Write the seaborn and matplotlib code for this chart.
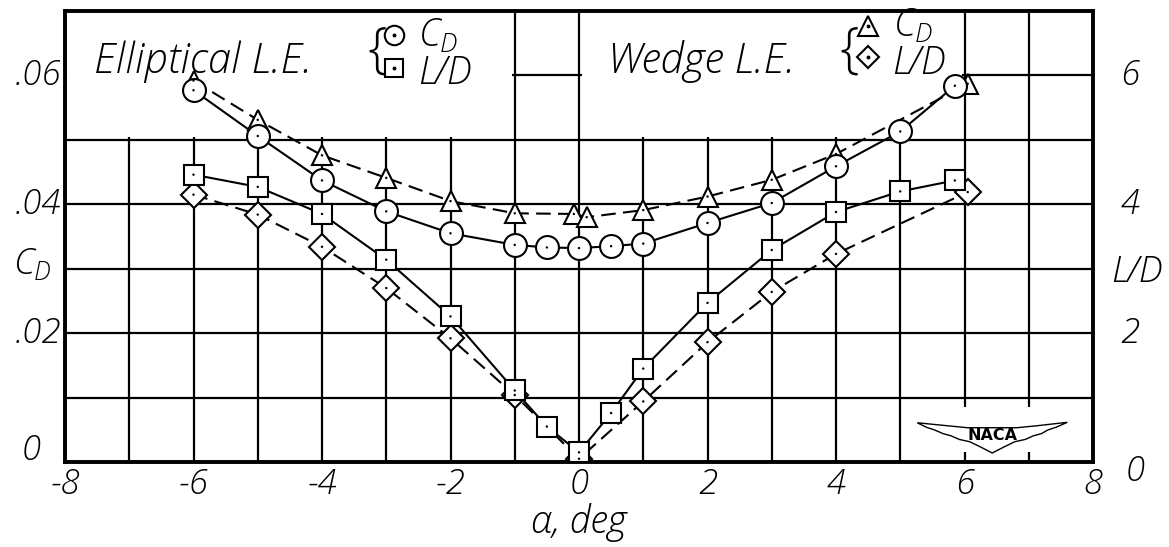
import numpy as np
import pandas as pd
import matplotlib
matplotlib.use("Agg")
import matplotlib.pyplot as plt
import seaborn as sns
from matplotlib.patches import Rectangle, Polygon

# ---------------- data ----------------
alpha_ell_cd = [-6, -5, -4, -3, -2, -1, -0.5, 0, 0.5, 1, 2, 3, 4, 5, 5.85]
cd_ell = [0.0577, 0.0506, 0.0437, 0.0389, 0.0355, 0.0337, 0.0333, 0.0332,
          0.0335, 0.0339, 0.0371, 0.0402, 0.0459, 0.0513, 0.0584]

alpha_wedge_cd = [-6, -5, -4, -3, -2, -1, -0.08, 0.12, 1, 2, 3, 4, 6.05]
cd_wedge = [0.0592, 0.0531, 0.0476, 0.0441, 0.0405, 0.0386, 0.0385, 0.0380,
            0.0391, 0.0412, 0.0438, 0.0478, 0.0587]

alpha_ell_ld = [-6, -5, -4, -3, -2, -1, -0.5, 0, 0.5, 1, 2, 3, 4, 5, 5.85]
ld_ell = [4.46, 4.27, 3.85, 3.14, 2.26, 1.11, 0.55, 0.15, 0.76, 1.45, 2.47,
          3.29, 3.88, 4.20, 4.37]

alpha_wedge_ld = [-6, -5, -4, -3, -2, -1, 0, 1, 2, 3, 4, 6.05]
ld_wedge = [4.15, 3.84, 3.34, 2.70, 1.92, 1.04, 0.05, 0.94, 1.86, 2.64, 3.23, 4.19]

x_tick_values = [-8, -6, -4, -2, 0, 2, 4, 6, 8]
x_tick_labels = ["-8", "-6", "-4", "-2", "0", "2", "4", "6", "8"]
cd_tick_values = [0.02, 0.04, 0.06]
cd_tick_labels = [".02", ".04", ".06"]
ld_tick_values = [2, 4, 6]
ld_tick_labels = ["2", "4", "6"]

# ---------------- style ----------------
sns.set_theme(style="white")
FAM = ["Open Sans", "DejaVu Sans"]
plt.rcParams["font.family"] = FAM
plt.rcParams["mathtext.fontset"] = "custom"
plt.rcParams["mathtext.rm"] = "Open Sans:light"
plt.rcParams["mathtext.it"] = "Open Sans:italic:light"
plt.rcParams["text.color"] = "black"
FONT = dict(family=FAM, style="italic", weight="light", color="black")
TS = 25   # tick label size
LS = 30   # legend label size
LW = 1.5

fig = plt.figure(figsize=(11.69, 5.47), dpi=100)
ax = fig.add_axes([65 / 1169, 85 / 547, 1028 / 1169, 451 / 547])
ax2 = ax.twinx()

ax.set_xlim(-8, 8)
ax.set_ylim(0, 0.07)
ax2.set_ylim(0, 7)

ax.set_xticks(np.arange(-8, 9, 1))
ax.set_yticks(np.arange(0, 0.0701, 0.01))
ax.set_xticklabels([])
ax.set_yticklabels([])
ax2.set_yticks([])
ax.tick_params(length=0)
ax2.tick_params(length=0)
ax.set_axisbelow(True)
ax.grid(True, color="black", linewidth=1.6)
for s in ax.spines.values():
    s.set_color("black")
    s.set_linewidth(2.8)
for s in ax2.spines.values():
    s.set_visible(False)

# white legend boxes and logo patch covering the grid
for (x0, x1, y0, y1) in [(-7.97, -1.04, 0.0504, 0.0697),
                         (0.04, 5.96, 0.0504, 0.0697),
                         (5.04, 7.97, 0.0015, 0.0085)]:
    ax.add_patch(Rectangle((x0, y0), x1 - x0, y1 - y0, facecolor="white",
                           edgecolor="none", zorder=1))

MK = dict(markerfacecolor="white", markeredgecolor="black",
          markeredgewidth=1.5, color="black", linewidth=LW)


def series(axis, x, y, marker, msize, dashed):
    df = pd.DataFrame({"alpha": x, "val": y})
    sns.lineplot(data=df, x="alpha", y="val", ax=axis, sort=False,
                 estimator=None, marker=marker, markersize=msize, **MK)
    line = axis.lines[-1]
    if dashed:
        line.set_dashes((7, 3.5))
    sns.scatterplot(data=df, x="alpha", y="val", ax=axis, s=3,
                    color="black", edgecolor="none", zorder=5)


series(ax, alpha_wedge_cd, cd_wedge, "^", 14.5, True)
series(ax, alpha_ell_cd, cd_ell, "o", 16.5, False)
series(ax2, alpha_wedge_ld, ld_wedge, "D", 13.5, True)
series(ax2, alpha_ell_ld, ld_ell, "s", 14.0, False)

ax.set_xlabel("")
ax.set_ylabel("")
ax2.set_ylabel("")
ax.set_xlim(-8, 8)
ax.set_ylim(0, 0.07)
ax2.set_ylim(0, 7)

# ---------------- tick labels (hand-lettered look) ----------------
xt = ax.get_xaxis_transform()
for v, lab in zip(x_tick_values, x_tick_labels):
    ax.text(v, -0.05, lab, transform=xt, ha="center", va="center",
            fontsize=TS, **FONT)
yt = ax.get_yaxis_transform()
for v, lab in zip(cd_tick_values, cd_tick_labels):
    ax.text(-0.004, v, lab, transform=yt, ha="right", va="center",
            fontsize=TS, **FONT)
ax.text(-0.033, 0.0018, "0", transform=yt, ha="center", va="center",
        fontsize=TS, **FONT)
ax.text(-0.032, 0.0305, r"$C_D$", transform=yt, ha="center", va="center",
        fontsize=TS + 1, color="black")

yt2 = ax2.get_yaxis_transform()
for v, lab in zip(ld_tick_values, ld_tick_labels):
    ax2.text(1.036, v, lab, transform=yt2, ha="center", va="center",
             fontsize=TS, **FONT)
ax2.text(1.041, -0.15, "0", transform=yt2, ha="center", va="center",
         fontsize=TS, **FONT)
ax2.text(1.018, 2.95, "L/D", transform=yt2, ha="left", va="center",
         fontsize=TS + 1, **FONT)

ax.text(0.5, -0.135, "α, deg", transform=ax.transAxes, ha="center",
        va="center", fontsize=27, **FONT)


# ---------------- legends ----------------
def legend_block(x_text, text, x_brace, x_sym, sym1, sym2, s1, s2,
                 y1, y2, x_lab):
    ax2.text(x_text, 6.22, text, ha="left", va="center", fontsize=LS, **FONT)
    ax2.text(x_brace, 6.36, "{", ha="center", va="center", fontsize=40,
             family=FAM, weight="light", color="black")
    for m, ms, yy in [(sym1, s1, y1), (sym2, s2, y2)]:
        ax2.plot([x_sym], [yy], marker=m, markersize=ms, linestyle="none",
                 markerfacecolor="white", markeredgecolor="black",
                 markeredgewidth=1.5)
        ax2.plot([x_sym], [yy], marker="o", markersize=1.8, color="black",
                 linestyle="none")
    ax2.text(x_lab, (y1 + y2) / 2 - 0.05, "$C_D$\nL/D", ha="left",
             va="center", fontsize=27, linespacing=0.95, **FONT)


legend_block(-7.55, "Elliptical L.E.", -3.14, -2.88, "o", "s", 14, 13,
             6.62, 6.12, -2.5)
legend_block(0.45, "Wedge L.E.", 4.2, 4.5, "^", "D", 14, 11.5,
             6.76, 6.28, 4.88)

# ---------------- NACA emblem ----------------
cx, cy = 0.902, 0.055
wing = [(0.829, 0.087), (0.86, 0.080), (0.878, 0.076), (0.926, 0.076),
        (0.944, 0.080), (0.975, 0.088),
        (0.964, 0.077), (0.956, 0.071), (0.950, 0.063), (0.942, 0.058),
        (0.934, 0.050), (0.924, 0.045), (0.914, 0.034), (0.902, 0.020),
        (0.890, 0.034), (0.880, 0.045), (0.870, 0.050), (0.862, 0.058),
        (0.854, 0.063), (0.846, 0.071), (0.838, 0.077)]
ax.add_patch(Polygon(wing, closed=True, transform=ax.transAxes,
                     facecolor="white", edgecolor="black", linewidth=1.0,
                     zorder=6))
ax.text(cx, cy + 0.003, "NACA", transform=ax.transAxes, ha="center",
        va="center", fontsize=11.5, weight="bold", family=["DejaVu Sans"],
        color="black", zorder=7)

fig.savefig("out.png", dpi=100, facecolor="white")
